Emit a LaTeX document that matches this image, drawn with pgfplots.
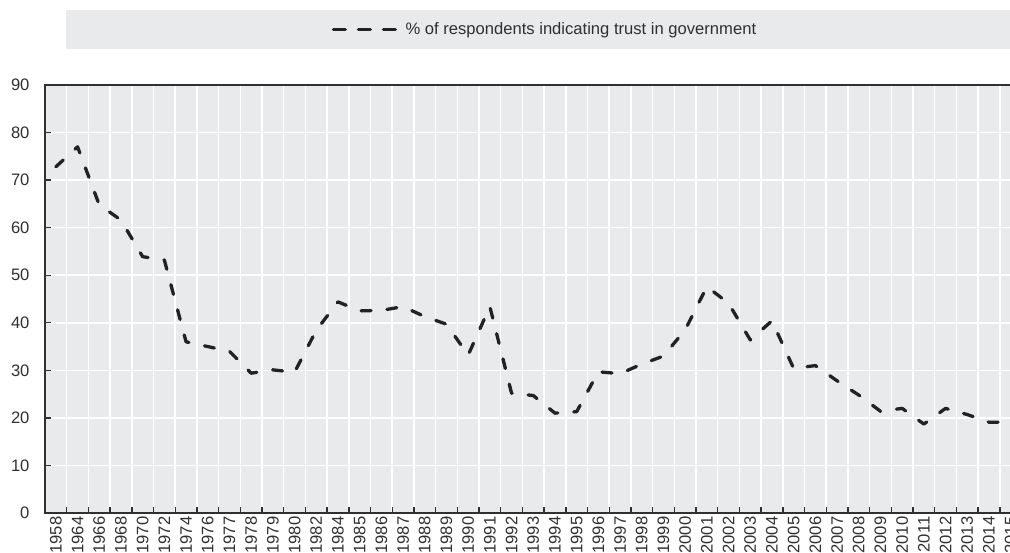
\documentclass[border=0pt]{standalone}
\usepackage{fontspec}
\setmainfont{Liberation Sans}
\usepackage{pgfplots}
\pgfplotsset{compat=1.18}
\definecolor{bg}{HTML}{E9EAEC}
\definecolor{axc}{HTML}{303030}
\definecolor{linec}{HTML}{222222}
\begin{document}
\begin{tikzpicture}
\fill[bg] (21pt,464pt) rectangle (979pt,503pt);
\begin{axis}[
  at={(0pt,0pt)}, anchor=south west,
  scale only axis, width=976.5pt, height=428pt,
  xmin=-0.5, xmax=44.5, ymin=0, ymax=90,
  xtick={-0.5,0.5,...,44.5},
  x tick label as interval,
  xticklabels={1958,1964,1966,1968,1970,1972,1974,1976,1977,1978,1979,1980,1982,1984,1985,1986,1987,1988,1989,1990,1991,1992,1993,1994,1995,1996,1997,1998,1999,2000,2001,2002,2003,2004,2005,2006,2007,2008,2009,2010,2011,2012,2013,2014,2015},
  ytick={0,10,...,90},
  tick pos=left,
  /pgf/number format/assume math mode=true,
  tick label style={font=\fontsize{16.6}{19}\selectfont, text=axc},
  xticklabel style={rotate=90, anchor=east, xshift=0pt},
  yticklabel style={xshift=-12pt},
  axis background/.style={fill=bg},
  grid=major,
  major grid style={white, line width=1.5pt},
  tick align=inside,
  major tick length=6pt,
  tick style={axc, line width=1.4pt},
  axis line style={axc, line width=2pt},
  legend style={at={(0.512,1.1297)}, anchor=center, draw=none, fill=none,
    font=\fontsize{16.6}{19}\selectfont, text=axc,
    /tikz/every odd column/.append style={column sep=6pt}},
  legend image code/.code={\draw[#1, dash pattern=on 12pt off 13pt] (1.5pt,0pt) -- (64pt,0pt);},
]
\addplot[linec, line width=3.3pt, line cap=round, line join=round, dash pattern=on 10pt off 16pt] coordinates {
(0,72.8) (1,77.0) (2,64.8) (3,61.6) (4,53.9) (5,53.2) (6,36.0) (7,35.0) (8,34.0) (9,29.4)
(10,30.1) (11,29.6) (12,38.4) (13,44.4) (14,42.5) (15,42.6) (16,43.4) (17,41.3) (18,39.7) (19,33.2)
(20,43.4) (21,25.2) (22,24.7) (23,21.0) (24,21.3) (25,29.7) (26,29.3) (27,31.3) (28,33.0) (29,38.5)
(30,47.6) (31,44.1) (32,36.4) (33,40.4) (34,30.4) (35,31.0) (36,27.8) (37,24.8) (38,21.4) (39,22.0)
(40,18.7) (41,22.0) (42,20.7) (43,19.1) (44,19.1)
};
\addlegendentry{\% of respondents indicating trust in government}
\end{axis}
\pgfresetboundingbox
\path[use as bounding box] (-45pt,-39pt) rectangle (965pt,513pt);
\end{tikzpicture}
\end{document}
